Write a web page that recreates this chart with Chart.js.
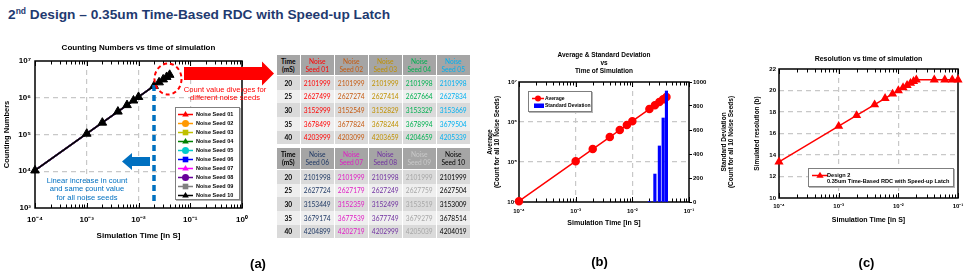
<!DOCTYPE html>
<html>
<head>
<meta charset="utf-8">
<title>2nd Design – 0.35um Time-Based RDC with Speed-up Latch</title>
<script src="https://cdn.jsdelivr.net/npm/chart.js@4.4.1/dist/chart.umd.min.js"></script>
<style>
  html,body{margin:0;padding:0;background:#fff;}
  body{position:relative;width:969px;height:280px;overflow:hidden;font-family:'Liberation Sans',Arial,sans-serif;color:#000;}
  .abs{position:absolute;white-space:nowrap;}
  canvas{position:absolute;}
  #slideTitle{left:8px;top:6px;font-size:13.7px;font-weight:bold;color:#1f3a70;line-height:17px;}
  #slideTitle sup{font-size:8.5px;vertical-align:0;position:relative;top:-5px;}
  .legend{position:absolute;background:#fff;border:1px solid #7f7f7f;box-shadow:1px 1px 0 #b5b5b5;box-sizing:border-box;}
  .cell{position:absolute;display:flex;flex-direction:column;align-items:center;justify-content:center;text-align:center;font-family:Lato,'Open Sans',sans-serif;font-size:6.6px;line-height:8.3px;white-space:nowrap;}
  .panel{font-size:13px;font-weight:bold;transform:translate(-50%,-50%);}
  .note{font-size:7.6px;line-height:8.6px;text-align:center;transform:translateX(-50%);}
</style>
</head>
<body>
<div id="slideTitle" class="abs">2<sup>nd</sup> Design – 0.35um Time-Based RDC with Speed-up Latch</div>
<script>
// ---------------- DATA ----------------
const timesEarly  = [0.0001, 0.001, 0.002, 0.004, 0.006, 0.008, 0.010];          // s
const countsEarly = [10510, 105100, 210200, 420400, 630600, 840800, 1051000];    // same for all seeds
const timesLate   = [0.020, 0.025, 0.030, 0.035, 0.040];                          // s
const timeLabelsMs = ['20', '25', '30', '35', '40'];
const seedNames = ['Noise Seed 01','Noise Seed 02','Noise Seed 03','Noise Seed 04','Noise Seed 05',
                   'Noise Seed 06','Noise Seed 07','Noise Seed 08','Noise Seed 09','Noise Seed 10'];
const seed01 = [2101999, 2627499, 3152999, 3678499, 4203999];
const seed02 = [2101999, 2627274, 3152549, 3677824, 4203099];
const seed03 = [2101999, 2627414, 3152829, 3678244, 4203659];
const seed04 = [2101998, 2627664, 3153329, 3678994, 4204659];
const seed05 = [2101998, 2627834, 3153669, 3679504, 4205339];
const seed06 = [2101998, 2627724, 3153449, 3679174, 4204899];
const seed07 = [2101999, 2627179, 3152359, 3677539, 4202719];
const seed08 = [2101998, 2627249, 3152499, 3677749, 4202999];
const seed09 = [2101999, 2627759, 3153519, 3679279, 4205039];
const seed10 = [2101999, 2627504, 3153009, 3678514, 4204019];

const avgTimes  = [0.0001, 0.001, 0.002, 0.004, 0.006, 0.008, 0.010, 0.020, 0.025, 0.030, 0.035, 0.040];
const avgCounts = [10510, 105100, 210200, 420400, 630600, 840800, 1051000, 2101999, 2627390, 3153070, 3678430, 4204150];
const stdTimes  = [0.020, 0.025, 0.030, 0.035, 0.040];
const stdDev    = [1, 233, 467, 700, 925];

const resTimes   = [0.0001, 0.001, 0.002, 0.004, 0.006, 0.008, 0.010, 0.012, 0.014, 0.016, 0.018, 0.020, 0.040, 0.060, 0.080, 0.100];
const resolution = [13.36, 16.68, 17.68, 18.68, 19.27, 19.68, 20.00, 20.27, 20.49, 20.68, 20.85, 21.00, 21.00, 21.00, 21.00, 21.00];

// ---------------- STYLES ----------------
const FONT = "'Liberation Sans', Arial, sans-serif";
const seedColors = ['#ff0000','#ff9900','#c0c000','#008000','#00cccc','#0000ff','#ff00ff','#660099','#808080','#000000'];
const seedShapes = ['triangle','circle','rect','triangle','circle','rect','triangle','circle','rect','triangle'];
const tableColors = ['#ff0000','#c55a11','#bf9000','#00b050','#00b0f0','#1f3864','#e01cc4','#7030a0','#a6a6a6','#000000'];
const tableHeadColors = ['#ff0000','#c55a11','#bf9000','#00b050','#00b0f0','#1f3864','#e01cc4','#7030a0','#c9c9c9','#000000'];

const SUP = {'-':'⁻','0':'⁰','1':'¹','2':'²','3':'³','4':'⁴','5':'⁵','6':'⁶','7':'⁷','8':'⁸','9':'⁹'};
function isMajor(v){ const e = Math.log10(v); return Math.abs(e - Math.round(e)) < 1e-6; }
function powLabel(v){ if(!isMajor(v)) return ''; const e = Math.round(Math.log10(v)); return '10' + String(e).split('').map(c=>SUP[c]).join(''); }
function logGrid(ctx){ const s = ctx.scale, v = ctx.tick && ctx.tick.value; if (v === undefined) return 'rgba(0,0,0,0)';
  if (v <= s.min*1.000001 || v >= s.max*0.999999) return 'rgba(0,0,0,0)'; return isMajor(v) ? '#c8c8c8' : 'rgba(0,0,0,0)'; }
function linGrid(ctx){ const s = ctx.scale, v = ctx.tick && ctx.tick.value; if (v === undefined || v <= s.min || v >= s.max) return 'rgba(0,0,0,0)'; return '#c8c8c8'; }
function logSteps(min, max){ const out=[]; for(let e=Math.floor(Math.log10(min)); e<=Math.ceil(Math.log10(max)); e++){ for(let k=1;k<10;k++){ const v=k*Math.pow(10,e); if(v>=min*0.999999 && v<=max*1.000001) out.push(v);} } return out; }

function framePlugin(key){
  return { id:'frame'+key, beforeDatasetsDraw(chart){
    const {ctx, chartArea:a} = chart; const xs = chart.scales.x;
    ctx.save(); ctx.strokeStyle = '#000'; ctx.lineWidth = 1; ctx.beginPath();
    logSteps(xs.min, xs.max).forEach(v=>{
      const px = Math.round(xs.getPixelForValue(v)) + 0.5; const len = isMajor(v) ? 5 : 3.5;
      ctx.moveTo(px, a.top); ctx.lineTo(px, a.top + len);
      ctx.moveTo(px, a.bottom); ctx.lineTo(px, a.bottom - len);
    });
    ctx.stroke();
    ctx.lineWidth = 1.5; ctx.strokeRect(a.left, a.top, a.right - a.left, a.bottom - a.top);
    ctx.restore();
  }};
}
function makeCanvas(x, y, w, h){
  const c = document.createElement('canvas'); c.width = w; c.height = h;
  c.style.left = x+'px'; c.style.top = y+'px'; c.style.width = w+'px'; c.style.height = h+'px';
  document.body.appendChild(c); return c;
}
function f(size, weight){ return {family: FONT, size: size, weight: weight || 'bold', lineHeight: 1.2}; }

Chart.defaults.font.family = FONT;

// ---------------- CHART (a) ----------------
(function(){
  const seeds = [seed01,seed02,seed03,seed04,seed05,seed06,seed07,seed08,seed09,seed10];
  const datasets = seeds.map((late, i) => ({
    label: seedNames[i],
    data: timesEarly.map((t,k)=>({x:t, y:countsEarly[k]})).concat(timesLate.map((t,k)=>({x:t, y:late[k]}))),
    borderColor: seedColors[i], backgroundColor: seedColors[i], pointBorderColor: seedColors[i],
    pointStyle: seedShapes[i], pointRadius: (i === 9 ? 5 : 1.8), pointBorderWidth: (i === 9 ? 1 : 0),
    borderWidth: 1.5, tension: 0, order: 9 - i, clip: false
  }));
  new Chart(makeCanvas(0, 38, 262, 210), {
    type: 'line', data: { datasets },
    plugins: [framePlugin('a')],
    options: {
      responsive:false, animation:false, devicePixelRatio:1, events:[],
      layout:{padding:{left:0, right:20, top:0, bottom:0}},
      plugins:{ legend:{display:false}, tooltip:{enabled:false},
        title:{display:true, fullSize:false, text:'Counting Numbers vs time of simulation', color:'#000', font:f(8), padding:{top:5.2, bottom:8.2}} },
      scales:{
        x:{ type:'logarithmic', min:1e-4, max:1, offset:false,
            border:{display:false, dash:[5,4]}, grid:{drawTicks:false, lineWidth:1.2, color:logGrid},
            ticks:{autoSkip:false, maxRotation:0, padding:7, color:'#000', font:f(8), callback:(v)=>powLabel(v)},
            title:{display:true, text:'Simulation Time [in S]', color:'#000', font:f(8), padding:{top:0, bottom:7.2}},
            afterFit:(s)=>{ s.height = 40; } },
        y:{ type:'logarithmic', min:1e3, max:1e7,
            border:{display:false, dash:[5,4]}, grid:{drawTicks:false, lineWidth:1.2, color:logGrid},
            ticks:{autoSkip:false, padding:4, color:'#000', font:f(8), callback:(v)=>powLabel(v)},
            title:{display:true, text:'Counting Numbers', color:'#000', font:f(7.5), padding:{top:2.5, bottom:0}},
            afterFit:(s)=>{ s.width = 35; } }
      }
    }
  });
})();

// ---------------- CHART (b) ----------------
(function(){
  new Chart(makeCanvas(480, 44, 239, 188), {
    type: 'line',
    data: { datasets: [
      { type:'bar', label:'Standard Deviation', data: stdTimes.map((t,k)=>({x:t, y:stdDev[k]})), yAxisID:'y2',
        backgroundColor:'#0000ff', borderWidth:0, barThickness:2.5, order:0 },
      { type:'line', label:'Average', data: avgTimes.map((t,k)=>({x:t, y:avgCounts[k]})), yAxisID:'y',
        borderColor:'#ff0000', backgroundColor:'#ff0000', pointStyle:'circle', pointRadius:3.5, borderWidth:1.5, tension:0, clip:false, order:1 }
    ]},
    plugins: [framePlugin('b')],
    options: {
      responsive:false, animation:false, devicePixelRatio:1, events:[],
      layout:{padding:{left:0, right:0, top:0, bottom:0}},
      plugins:{ legend:{display:false}, tooltip:{enabled:false},
        title:{display:true, fullSize:false, text:['Average & Standard Deviation','vs','Time of Simulation'], color:'#000', font:{family:FONT, size:6.5, weight:'bold', lineHeight:1.2}, padding:{top:7.8, bottom:6.8}} },
      scales:{
        x:{ type:'logarithmic', min:1e-4, max:1e-1, offset:false,
            border:{display:false, dash:[5,4]}, grid:{drawTicks:false, lineWidth:1.2, color:logGrid, offset:false},
            ticks:{autoSkip:false, maxRotation:0, padding:5.4, color:'#000', font:f(6), callback:(v)=>powLabel(v)},
            title:{display:true, text:'Simulation Time [in S]', color:'#000', font:f(7), padding:{top:0, bottom:4.8}},
            afterFit:(s)=>{ s.height = 30; } },
        y:{ type:'logarithmic', position:'left', min:1e4, max:1e7,
            border:{display:false, dash:[5,4]}, grid:{drawTicks:false, lineWidth:1.2, color:logGrid},
            ticks:{autoSkip:false, padding:2, color:'#000', font:f(6), callback:(v)=>powLabel(v)},
            title:{display:true, text:['Average','(Count for all 10 Noise Seeds)'], color:'#000', font:{family:FONT, size:6.5, weight:'bold', lineHeight:1.077}, padding:{top:6.5, bottom:0}},
            afterFit:(s)=>{ s.width = 39; } },
        y2:{ type:'linear', position:'right', min:0, max:1000,
            border:{display:false}, grid:{drawOnChartArea:false, drawTicks:true, tickLength:3, tickColor:'#000', tickWidth:1},
            ticks:{stepSize:200, padding:1, color:'#000', font:f(6), callback:(v)=>String(v)},
            afterFit:(s)=>{ s.width = 30; } }
      }
    }
  });
})();

// ---------------- CHART (c) ----------------
(function(){
  new Chart(makeCanvas(740, 48, 229, 182), {
    type: 'line',
    data: { datasets: [
      { label:'Design 2', data: resTimes.map((t,k)=>({x:t, y:resolution[k]})),
        borderColor:'#ff0000', backgroundColor:'#ff0000', pointStyle:'triangle', pointRadius:3.8, borderWidth:1.5, tension:0, clip:false }
    ]},
    plugins: [framePlugin('c')],
    options: {
      responsive:false, animation:false, devicePixelRatio:1, events:[],
      layout:{padding:{left:0, right:11, top:0, bottom:0}},
      plugins:{ legend:{display:false}, tooltip:{enabled:false},
        title:{display:true, fullSize:false, text:'Resolution vs time of simulation', color:'#000', font:f(7), padding:{top:6.8, bottom:5.8}} },
      scales:{
        x:{ type:'logarithmic', min:1e-4, max:1e-1, offset:false,
            border:{display:false, dash:[5,4]}, grid:{drawTicks:false, lineWidth:1.2, color:logGrid},
            ticks:{autoSkip:false, maxRotation:0, padding:4.7, color:'#000', font:f(6), callback:(v)=>powLabel(v)},
            title:{display:true, text:'Simulation Time [in S]', color:'#000', font:f(7), padding:{top:0, bottom:5.8}},
            afterFit:(s)=>{ s.height = 32; } },
        y:{ type:'linear', min:10, max:22,
            border:{display:false, dash:[5,4]}, grid:{drawTicks:false, lineWidth:1.2, color:linGrid},
            ticks:{stepSize:2, padding:3, color:'#000', font:f(6)},
            title:{display:true, text:'Simulated resolution (b)', color:'#000', font:f(6.5), padding:{top:13.1, bottom:0}},
            afterFit:(s)=>{ s.width = 39; } }
      }
    }
  });
})();

// ---------------- OVERLAYS ----------------
const NS = 'http://www.w3.org/2000/svg';
function svgEl(tag, attrs, parent){ const e = document.createElementNS(NS, tag); for (const k in attrs) e.setAttribute(k, attrs[k]); if (parent) parent.appendChild(e); return e; }
function markerShape(svg, shape, cx, cy, r, color){
  if (shape === 'circle') svgEl('circle', {cx, cy, r, fill:color}, svg);
  else if (shape === 'rect') svgEl('rect', {x:cx-r*0.8, y:cy-r*0.8, width:r*1.6, height:r*1.6, fill:color}, svg);
  else if (shape === 'triangle') svgEl('polygon', {points:`${cx},${cy-r} ${cx-r*0.95},${cy+r*0.6} ${cx+r*0.95},${cy+r*0.6}`, fill:color}, svg);
}
function addDiv(cls, style, html){ const d = document.createElement('div'); d.className = cls; d.setAttribute('style', style); d.innerHTML = html; document.body.appendChild(d); return d; }

// annotation shapes
const over = svgEl('svg', {width:969, height:280, style:'position:absolute;left:0;top:0;'});
document.body.appendChild(over);
svgEl('line', {x1:154, y1:85, x2:154, y2:203, stroke:'#0070c0', 'stroke-width':3.5, 'stroke-dasharray':'6,4'}, over);
svgEl('polygon', {points:'122,161.5 132,153 132,157 150,157 150,166 132,166 132,170', fill:'#0070c0'}, over);
svgEl('ellipse', {cx:168, cy:79, rx:13.5, ry:15.5, fill:'none', stroke:'#ff0000', 'stroke-width':2, 'stroke-dasharray':'4,3'}, over);
svgEl('polygon', {points:'184,67 262,67 262,61.5 274,73.5 262,85.5 262,80 184,80', fill:'#ff0000'}, over);

addDiv('abs note', 'left:225px;top:85.5px;color:#ff0000;', 'Count value diverges for<br>different noise seeds');
addDiv('abs note', 'left:87px;top:176.5px;color:#0070c0;', 'Linear increase in count<br>and same count value<br>for all noise seeds');

// legend (a)
(function(){
  const lg = addDiv('legend', 'left:175px;top:107px;width:65px;height:93px;', '');
  seedNames.forEach((name, i) => {
    const row = document.createElement('div');
    row.setAttribute('style', `position:absolute;left:1px;top:${1.5 + i*9.07}px;height:9px;display:flex;align-items:center;`);
    const s = svgEl('svg', {width:17, height:9});
    svgEl('line', {x1:1, y1:4.5, x2:16, y2:4.5, stroke:seedColors[i], 'stroke-width':1.5}, s);
    markerShape(s, seedShapes[i], 8.5, 4.5, 3.5, seedColors[i]);
    row.appendChild(s);
    const t = document.createElement('span');
    t.setAttribute('style', 'font-size:5.5px;font-weight:bold;margin-left:2px;line-height:9px;');
    t.textContent = name; row.appendChild(t);
    lg.appendChild(row);
  });
})();

// legend (b)
(function(){
  const lg = addDiv('legend', 'left:528px;top:91px;width:64px;height:21px;', '');
  const s1 = svgEl('svg', {width:16, height:20, style:'position:absolute;left:1px;top:0;'});
  svgEl('line', {x1:2, y1:6.5, x2:14, y2:6.5, stroke:'#ff0000', 'stroke-width':1.5}, s1);
  markerShape(s1, 'circle', 8, 6.5, 3, '#ff0000');
  svgEl('rect', {x:4, y:11.5, width:10, height:4.5, fill:'#0000ff'}, s1);
  lg.appendChild(s1);
  const t = document.createElement('div');
  t.setAttribute('style', 'position:absolute;left:16px;top:2.5px;font-size:5px;font-weight:bold;line-height:7px;white-space:nowrap;');
  t.innerHTML = 'Average<br>Standard Deviation'; lg.appendChild(t);
})();

// legend (c)
(function(){
  const lg = addDiv('legend', 'left:808px;top:168px;width:146px;height:19px;', '');
  const s1 = svgEl('svg', {width:18, height:18, style:'position:absolute;left:2px;top:0;'});
  svgEl('line', {x1:1, y1:6.5, x2:17, y2:6.5, stroke:'#ff0000', 'stroke-width':1.5}, s1);
  markerShape(s1, 'triangle', 9, 6.5, 3.8, '#ff0000');
  lg.appendChild(s1);
  const t = document.createElement('div');
  t.setAttribute('style', 'position:absolute;left:18px;top:2.5px;font-size:5.6px;font-weight:bold;line-height:6.8px;white-space:nowrap;');
  t.innerHTML = 'Design 2<br>0.35um Time-Based RDC with Speed-up Latch'; lg.appendChild(t);
})();

// right-axis title (b)
addDiv('abs', 'left:727px;top:142px;transform:translate(-50%,-50%) rotate(-90deg);font-size:6.5px;font-weight:bold;line-height:7px;text-align:center;',
  'Standard Deviation<br>(Count for all 10 Noise Seeds)');

// panel labels
addDiv('abs panel', 'left:258px;top:263px;', '(a)');
addDiv('abs panel', 'left:599.5px;top:261px;', '(b)');
addDiv('abs panel', 'left:866.5px;top:262px;', '(c)');

// tables
(function(){
  const seeds = [seed01,seed02,seed03,seed04,seed05,seed06,seed07,seed08,seed09,seed10];
  const colX = [277, 301, 335, 369, 403, 437];
  const colW = [24, 34, 34, 34, 34, 34];
  function cell(x, y, w, h, bg, color, weight, html){
    addDiv('cell', `left:${x}px;top:${y}px;width:${w-1.5}px;height:${h}px;background:${bg};color:${color};font-weight:${weight};`, html);
  }
  function table(top, headH, first){
    const rowH = 13.7;
    cell(colX[0], top, colW[0], headH-1, '#a5a5a5', '#000', 'bold', 'Time<br>(mS)');
    for (let c = 0; c < 5; c++) {
      const si = first + c;
      cell(colX[c+1], top, colW[c+1], headH-1, '#a5a5a5', tableHeadColors[si], 'normal', 'Noise<br>' + seedNames[si].replace('Noise ', ''));
    }
    timeLabelsMs.forEach((tl, r) => {
      const y = top + headH + r*rowH; const bg = (r % 2 === 0) ? '#dadada' : '#efefef';
      cell(colX[0], y, colW[0], rowH, bg, '#000', 'bold', tl);
      for (let c = 0; c < 5; c++) {
        const si = first + c;
        cell(colX[c+1], y, colW[c+1], rowH, bg, tableColors[si], 'normal', String(seeds[si][r]));
      }
    });
  }
  table(55, 21, 0);
  table(147.5, 22.5, 5);
})();
</script>
</body>
</html>
